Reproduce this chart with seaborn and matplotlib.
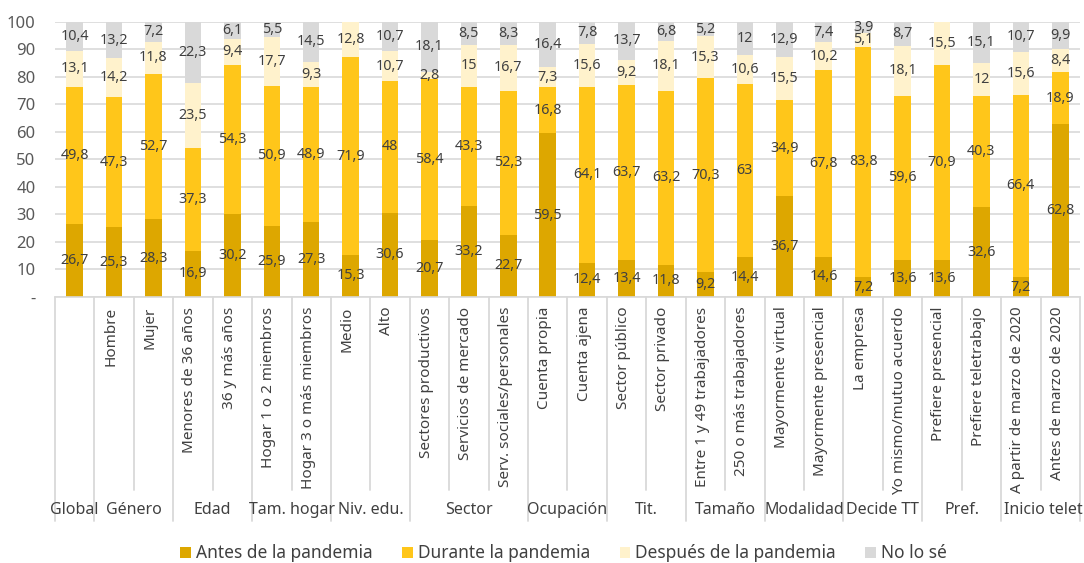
import numpy as np
import pandas as pd
import matplotlib
matplotlib.use("Agg")
import matplotlib.pyplot as plt
import matplotlib.transforms as mtransforms
from matplotlib.patches import Patch
import seaborn as sns

# ---------------------------------------------------------------------------
# data
# ---------------------------------------------------------------------------
categories = [
    "Global", "Hombre", "Mujer", "Menores de 36 años", "36 y más años",
    "Hogar 1 o 2 miembros", "Hogar 3 o más miembros", "Medio", "Alto",
    "Sectores productivos", "Servicios de mercado", "Serv. sociales/personales",
    "Cuenta propia", "Cuenta ajena", "Sector público", "Sector privado",
    "Entre 1 y 49 trabajadores", "250 o más trabajadores",
    "Mayormente virtual", "Mayormente presencial", "La empresa",
    "Yo mismo/mutuo acuerdo", "Prefiere presencial", "Prefiere teletrabajo",
    "A partir de marzo de 2020", "Antes de marzo de 2020",
]
cat_labels = [""] + categories[1:]   # the Global column has no own label

groups = ["Global", "Género", "Edad", "Tam. hogar", "Niv. edu.", "Sector",
          "Ocupación", "Tit.", "Tamaño", "Modalidad", "Decide TT", "Pref.",
          "Inicio telet"]
group_sizes = [1, 2, 2, 2, 2, 3, 2, 2, 2, 2, 2, 2, 2]

antes = [26.7, 25.3, 28.3, 16.9, 30.2, 25.9, 27.3, 15.3, 30.6, 20.7, 33.2, 22.7,
         59.5, 12.4, 13.4, 11.8, 9.2, 14.4, 36.7, 14.6, 7.2, 13.6, 13.6, 32.6,
         7.2, 62.8]
durante = [49.8, 47.3, 52.7, 37.3, 54.3, 50.9, 48.9, 71.9, 48.0, 58.4, 43.3, 52.3,
           16.8, 64.1, 63.7, 63.2, 70.3, 63.0, 34.9, 67.8, 83.8, 59.6, 70.9, 40.3,
           66.4, 18.9]
despues = [13.1, 14.2, 11.8, 23.5, 9.4, 17.7, 9.3, 12.8, 10.7, 2.8, 15.0, 16.7,
           7.3, 15.6, 9.2, 18.1, 15.3, 10.6, 15.5, 10.2, 5.1, 18.1, 15.5, 12.0,
           15.6, 8.4]
no_se = [10.4, 13.2, 7.2, 22.3, 6.1, 5.5, 14.5, 0.0, 10.7, 18.1, 8.5, 8.3,
         16.4, 7.8, 13.7, 6.8, 5.2, 12.0, 12.9, 7.4, 3.9, 8.7, 0.0, 15.1,
         10.7, 9.9]

series_names = ["Antes de la pandemia", "Durante la pandemia",
                "Después de la pandemia", "No lo sé"]
colors = ["#DDA700", "#FFC61A", "#FFF2CC", "#D9D9D9"]

df = pd.DataFrame({"cat": categories, series_names[0]: antes,
                   series_names[1]: durante, series_names[2]: despues,
                   series_names[3]: no_se})
cum = df[series_names].cumsum(axis=1)

# ---------------------------------------------------------------------------
# figure
# ---------------------------------------------------------------------------
sns.set_style("white")
plt.rcParams["font.family"] = ["Noto Sans", "DejaVu Sans"]
text_col = "#404040"
grid_col = "#D9D9D9"

fig = plt.figure(figsize=(10.84, 5.63), dpi=100)
ax = fig.add_axes([0.0507, 0.4725, 0.9456, 0.4885])

# stacked bars: draw cumulative totals from top layer down
for name, col in zip(series_names[::-1], colors[::-1]):
    sns.barplot(data=cum.assign(cat=df["cat"]), x="cat", y=name, color=col,
                width=0.42, saturation=1, linewidth=0, ax=ax, zorder=2)

# segment labels
for name in series_names:
    for i, v in enumerate(df[name]):
        if v <= 0:
            continue
        mid = cum[name].iloc[i] - v / 2
        txt = f"{v:g}".replace(".", ",")
        ax.text(i, mid, txt, ha="center", va="center", fontsize=10.3,
                color=text_col, zorder=3)

ax.set_xlim(-0.5, len(categories) - 0.5)
ax.set_ylim(0, 100)
ax.set_yticks(range(0, 101, 10))
ax.set_yticklabels(["-"] + [str(t) for t in range(10, 101, 10)],
                   fontsize=12, color="#595959")
ax.tick_params(axis="y", length=0, pad=14)
ax.yaxis.grid(True, color=grid_col, linewidth=1.2, zorder=0)
ax.set_axisbelow(True)
ax.set_xticks([])
ax.set_xlabel("")
ax.set_ylabel("")
for s in ["top", "right", "left"]:
    ax.spines[s].set_visible(False)
ax.spines["bottom"].set_color(grid_col)
ax.spines["bottom"].set_linewidth(1.2)

# category labels + separators below the axis
trans = mtransforms.blended_transform_factory(ax.transData, ax.transAxes)
for i, lab in enumerate(cat_labels):
    ax.text(i - 0.08, -0.035, lab, rotation=90, ha="center", va="top",
            fontsize=11, color=text_col, transform=trans, clip_on=False)

bounds = np.cumsum([0] + group_sizes) - 0.5
for b in np.arange(-0.5, len(categories), 1.0):
    y_end = -0.815 if b in bounds else -0.70
    ax.plot([b, b], [0, y_end], color=grid_col, lw=1.3, transform=trans,
            clip_on=False)

for g, lo, hi in zip(groups, bounds[:-1], bounds[1:]):
    if g == "Inicio telet":
        ax.text(lo + 0.08, -0.775, g, ha="left", va="center", fontsize=11.5,
                color=text_col, transform=trans, clip_on=False)
    else:
        ax.text((lo + hi) / 2, -0.775, g, ha="center", va="center",
                fontsize=11.5, color=text_col, transform=trans, clip_on=False)

# legend
handles = [Patch(facecolor=c, edgecolor="none", label=n)
           for n, c in zip(series_names, colors)]
fig.legend(handles=handles, loc="center", ncol=4, frameon=False,
           bbox_to_anchor=(0.52, 0.017), fontsize=12.5, labelcolor=text_col,
           handlelength=0.6, handleheight=0.6, handletextpad=0.3,
           columnspacing=1.7, borderpad=0.1)

fig.savefig("out.png", dpi=100)
